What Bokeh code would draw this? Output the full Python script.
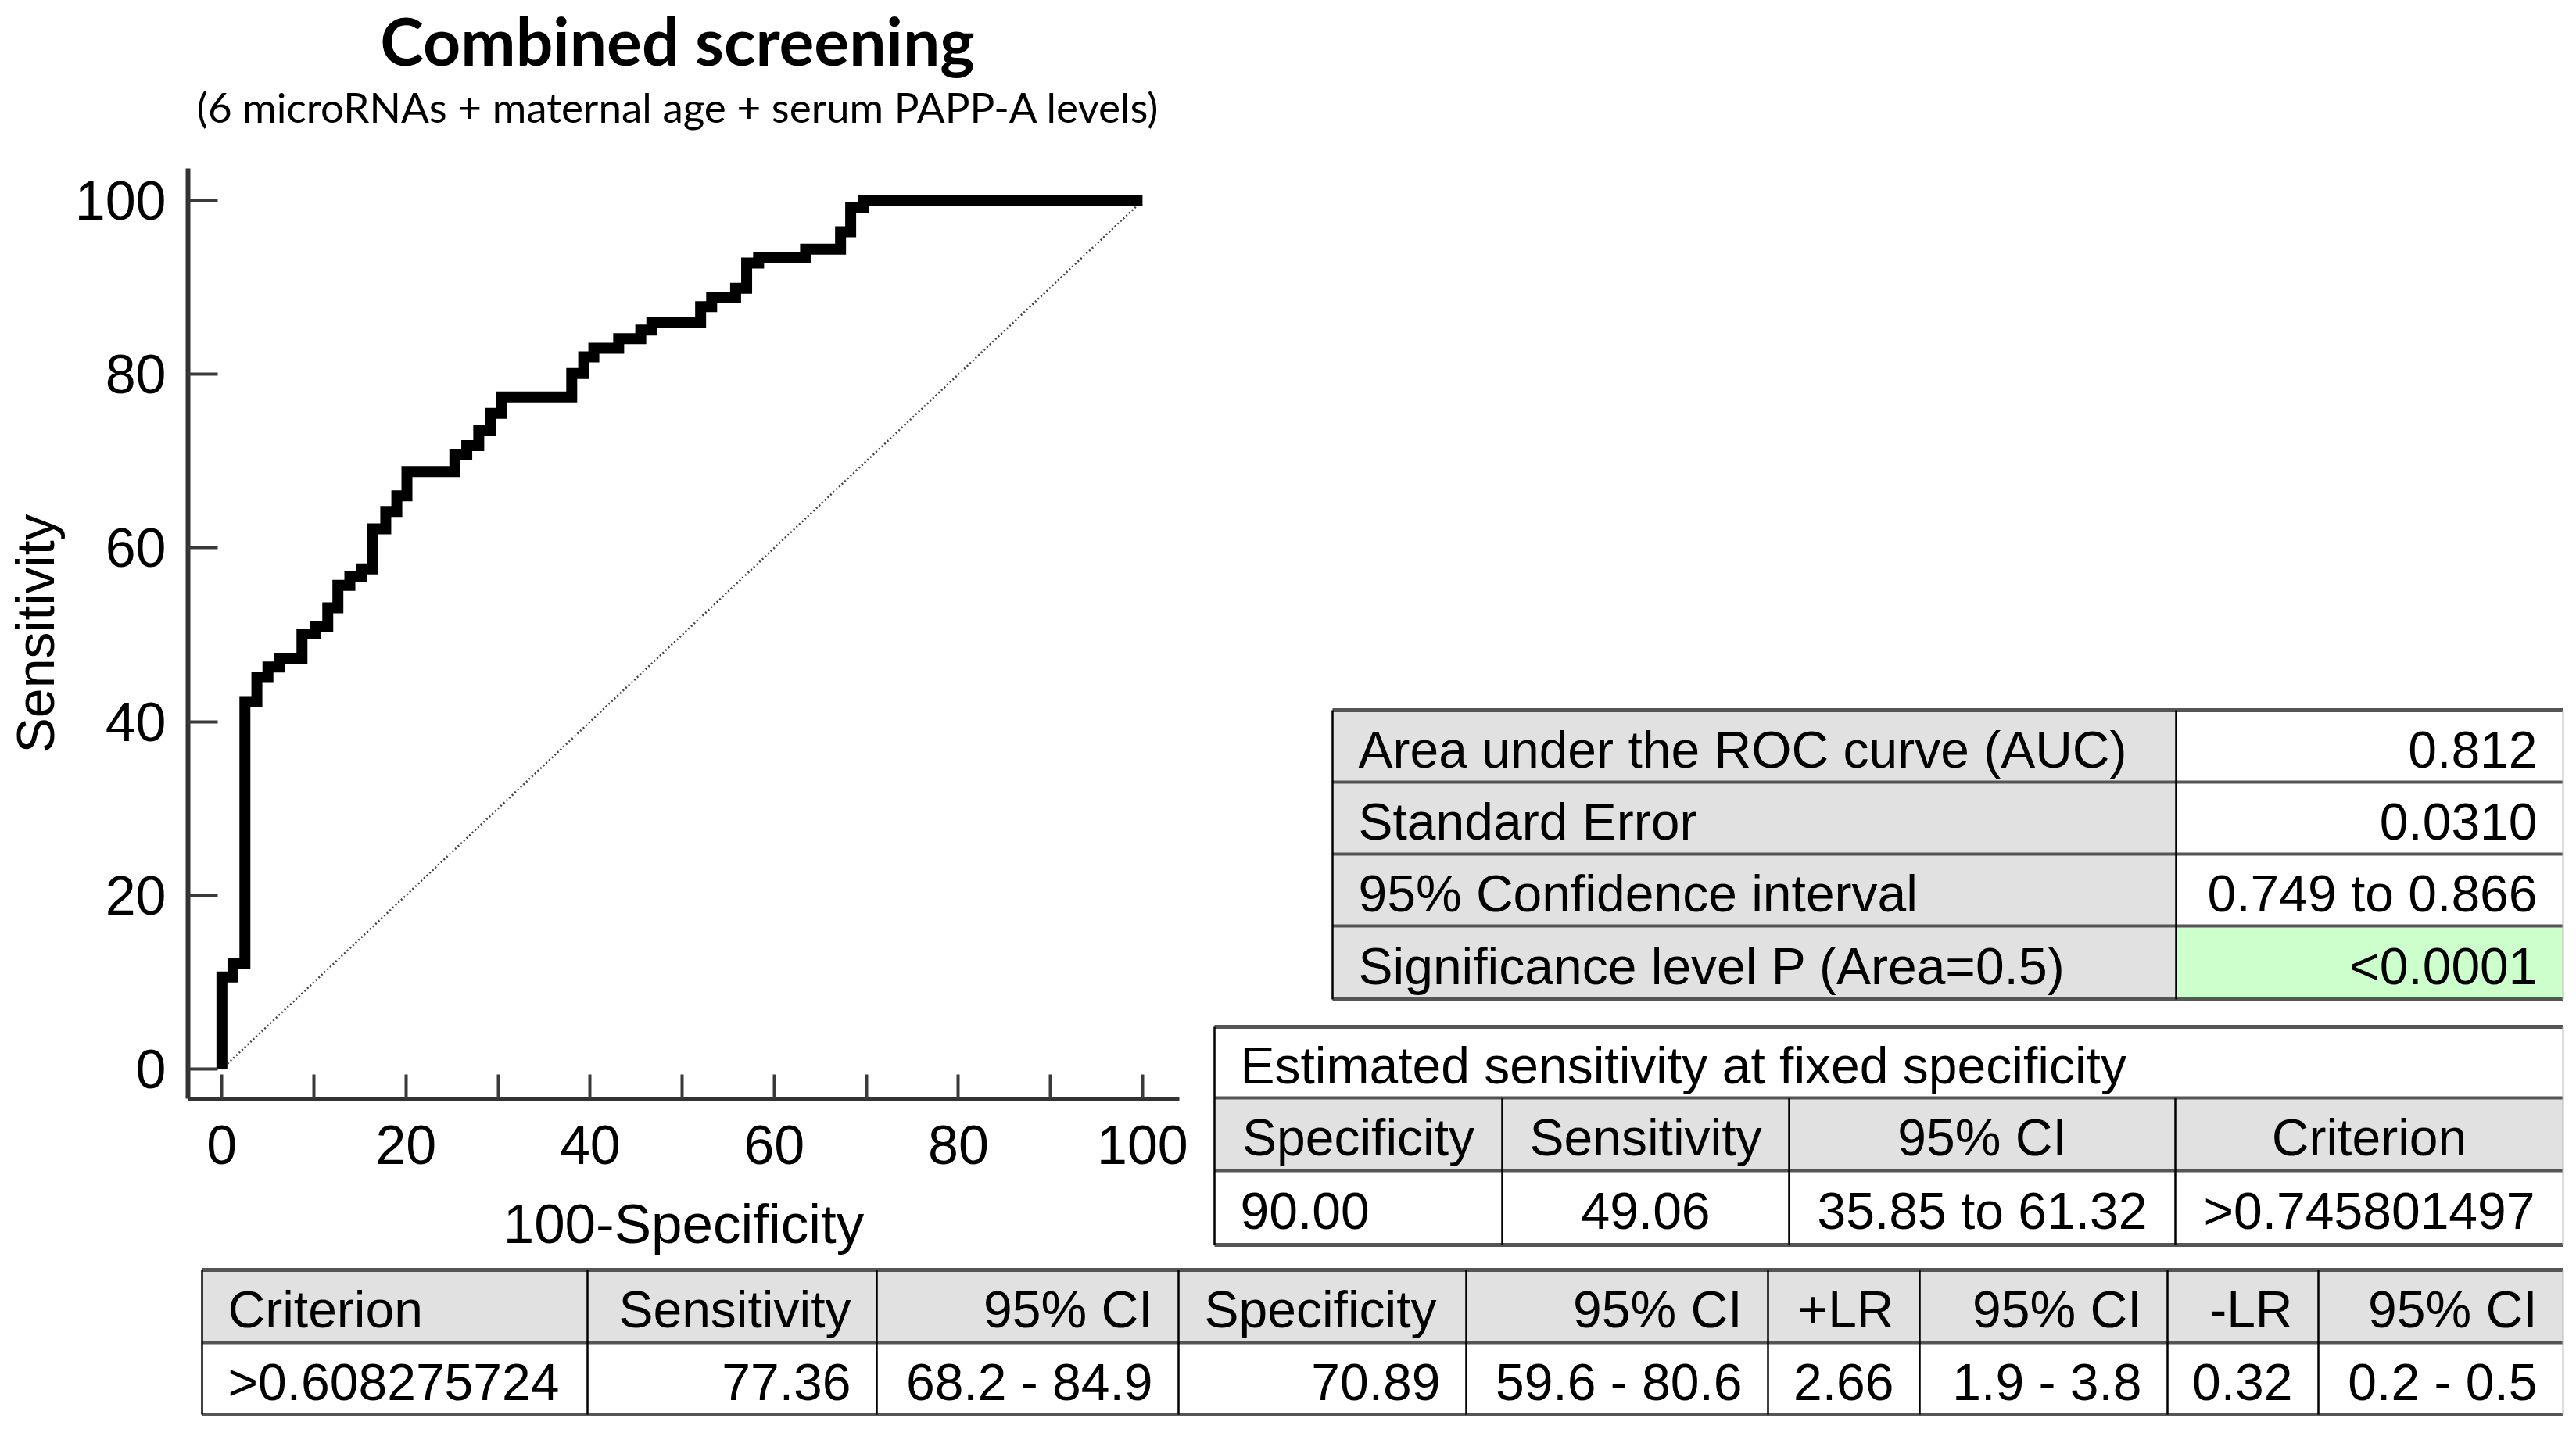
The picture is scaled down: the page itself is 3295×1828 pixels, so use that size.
from bokeh.plotting import figure
from bokeh.models import Range1d, FixedTicker, ColumnDataSource
from bokeh.layouts import column, row
from bokeh.embed import file_html
from bokeh.resources import INLINE
from bokeh.core.properties import value

# ---------------- data ----------------
title_text = "Combined screening"
subtitle_text = "(6 microRNAs + maternal age + serum PAPP-A levels)"

# ROC step curve: 100-Specificity at which sensitivity jumps, and the new sensitivity
fpr = [0, 0, 1.2, 2.5, 3.8, 5.0, 6.3, 8.7, 10.2, 11.5, 12.6, 13.9, 15.2, 16.4, 17.8, 19.0,
       20.1, 25.3, 26.6, 27.9, 29.2, 30.4, 38.0, 39.3, 40.4, 43.1, 45.5, 46.7, 52.0, 53.2,
       55.8, 57.0, 58.3, 63.4, 67.2, 68.3, 69.7, 100]
tpr = [0, 10.6, 12.2, 42.3, 45.1, 46.3, 47.3, 50.1, 51.0, 53.1, 55.7, 56.7, 57.6, 62.2, 64.2, 66.0,
       68.8, 70.7, 71.8, 73.5, 75.5, 77.4, 80.1, 82.0, 83.0, 84.1, 85.1, 86.0, 87.8, 88.8,
       89.9, 92.8, 93.4, 94.4, 96.4, 99.2, 100, 100]
chance_x = [0, 100]
chance_y = [0, 100]

x_ticks = [0, 20, 40, 60, 80, 100]
x_minor_ticks = [10, 30, 50, 70, 90]
y_ticks = [0, 20, 40, 60, 80, 100]
x_label = "100-Specificity"
y_label = "Sensitivity"

auc_labels = ["Area under the ROC curve (AUC)", "Standard Error",
              "95% Confidence interval", "Significance level P (Area=0.5)"]
auc_values = ["0.812", "0.0310", "0.749 to 0.866", "<0.0001"]

fixed_title = "Estimated sensitivity at fixed specificity"
fixed_header = ["Specificity", "Sensitivity", "95% CI", "Criterion"]
fixed_row = ["90.00", "49.06", "35.85 to 61.32", ">0.745801497"]

crit_header = ["Criterion", "Sensitivity", "95% CI", "Specificity", "95% CI",
               "+LR", "95% CI", "-LR", "95% CI"]
crit_row = [">0.608275724", "77.36", "68.2 - 84.9", "70.89", "59.6 - 80.6",
            "2.66", "1.9 - 3.8", "0.32", "0.2 - 0.5"]

# ---------------- styles / layout ----------------
FONT = "Liberation Sans"
TITLE_FONT = "Lato"
GRAY = "#e1e1e1"
GREEN = "#ccffcc"
HLINE = "#555555"
TFS = 66  # table font px
PAD = 33
SHIFT = {FONT: 0.29, TITLE_FONT: 0.28}  # baseline correction (em)


def canvas(w, h, xr, yr, **kw):
    f = figure(width=w, height=h, x_range=Range1d(*xr), y_range=Range1d(*yr),
               output_backend="svg", toolbar_location=None,
               x_axis_location=None, y_axis_location=None, title=None, **kw)
    f.grid.visible = False
    f.outline_line_color = None
    f.background_fill_color = "white"
    f.border_fill_color = "white"
    return f


def put_text(f, xs, ys, texts, align, size, font=FONT, style="normal", color="black"):
    k = SHIFT[font] * size
    src = ColumnDataSource(dict(x=list(xs), y=[y - k for y in ys], t=texts))
    f.text(x="x", y="y", text="t", source=src, text_align=align, text_baseline="alphabetic",
           text_font=value(font), text_font_size=f"{size}px", text_font_style=style,
           text_color=color)


def draw_table(f, cells, hlines, vlines):
    # cells: (x0, x1, y0, y1, fill, text, align) in page pixels
    f.quad(left=[c[0] for c in cells], right=[c[1] for c in cells],
           top=[c[2] for c in cells], bottom=[c[3] for c in cells],
           fill_color=[c[4] for c in cells], line_color=None)
    for (x0, x1, y, w, col) in hlines:
        f.segment(x0=[x0], y0=[y], x1=[x1], y1=[y], line_color=col, line_width=w)
    for (x, y0, y1, w, col) in vlines:
        f.segment(x0=[x], y0=[y0], x1=[x], y1=[y1], line_color=col, line_width=w)
    groups = {}
    for (x0, x1, y0, y1, fill, text, align) in cells:
        if not text:
            continue
        base = (y0 + y1) / 2 + 0.716 * TFS / 2
        if align == "left":
            x = x0 + PAD
        elif align == "right":
            x = x1 - PAD
        else:
            x = (x0 + x1) / 2
        groups.setdefault(align, []).append((x, base, text))
    for align, items in groups.items():
        put_text(f, [i[0] for i in items], [i[1] for i in items],
                 [i[2] for i in items], align, TFS)


LEFT_W = 1548
# ---------------- title (page-pixel coordinates, frame aligned with plot frame) ----------------
tfig = canvas(LEFT_W, 206, (240, 1508), (206, 0),
              min_border_left=240, min_border_right=40, min_border_top=0, min_border_bottom=0)
put_text(tfig, [866], [75], [title_text], "center", 84, font=TITLE_FONT, style="bold")
put_text(tfig, [867], [151], [subtitle_text], "center", 53, font=TITLE_FONT)

# ---------------- ROC plot ----------------
p = figure(width=LEFT_W, height=1414, x_range=Range1d(-3.68, 104.0), y_range=Range1d(-3.42, 103.7),
           output_backend="svg", toolbar_location=None, title=None,
           min_border_left=240, min_border_right=40, min_border_top=9, min_border_bottom=215)
p.grid.visible = False
p.outline_line_color = None

p.line(chance_x, chance_y, line_color="#444444", line_width=2.5, line_dash="2 3")
p.step(fpr, tpr, mode="after", line_color="black", line_width=14, line_join="miter", line_cap="butt")

p.xaxis.ticker = FixedTicker(ticks=x_ticks, minor_ticks=x_minor_ticks)
p.yaxis.ticker = FixedTicker(ticks=y_ticks)
p.xaxis.axis_label = x_label
p.yaxis.axis_label = y_label
for ax in (p.xaxis, p.yaxis):
    ax.axis_line_color = "#333333"
    ax.major_tick_line_color = "#3a3a3a"
    ax.minor_tick_line_color = "#3a3a3a"
    ax.major_tick_line_width = 4
    ax.minor_tick_line_width = 4
    ax.major_tick_out = 0
    ax.minor_tick_out = 0
    ax.major_label_text_font = FONT
    ax.major_label_text_font_size = "70px"
    ax.major_label_text_color = "black"
    ax.axis_label_text_font = FONT
    ax.axis_label_text_font_style = "normal"
    ax.axis_label_text_color = "black"
p.xaxis.axis_label_text_font_size = "71px"
p.yaxis.axis_label_text_font_size = "68px"
p.xaxis.axis_line_width = 5
p.yaxis.axis_line_width = 6
p.xaxis.major_tick_in = 31
p.xaxis.minor_tick_in = 31
p.yaxis.major_tick_in = 38
p.yaxis.minor_tick_in = 0
p.xaxis.major_label_standoff = 34
p.yaxis.major_label_standoff = 28
p.xaxis.axis_label_standoff = 34
p.yaxis.axis_label_standoff = 10

# ---------------- right side tables (page-pixel coordinates) ----------------
rfig = canvas(3295 - LEFT_W, 1620, (LEFT_W, 3295), (1620, 0), min_border=0)

# AUC table
ax_edges = [1704, 2783, 3278]
ay_edges = [908, 1000, 1092, 1184, 1278]
cells = []
for i in range(4):
    cells.append((ax_edges[0], ax_edges[1], ay_edges[i], ay_edges[i + 1], GRAY, auc_labels[i], "left"))
    cells.append((ax_edges[1], ax_edges[2], ay_edges[i], ay_edges[i + 1],
                  GREEN if i == 3 else "white", auc_values[i], "right"))
hl = [(ax_edges[0], ax_edges[2], y, 5 if j in (0, 4) else 4, HLINE) for j, y in enumerate(ay_edges)]
vl = [(ax_edges[0], ay_edges[0], ay_edges[-1], 2.5, "black"),
      (ax_edges[1], ay_edges[0], ay_edges[-1], 2.5, "black"),
      (ax_edges[2], ay_edges[0], ay_edges[-1], 2, "#bbbbbb")]
draw_table(rfig, cells, hl, vl)

# fixed specificity table
fx_edges = [1553, 1921, 2288, 2782, 3278]
fy_edges = [1313, 1404, 1497, 1592]
cells = [(fx_edges[0], fx_edges[-1], fy_edges[0], fy_edges[1], "white", fixed_title, "left")]
for c in range(4):
    cells.append((fx_edges[c], fx_edges[c + 1], fy_edges[1], fy_edges[2], GRAY, fixed_header[c], "center"))
    cells.append((fx_edges[c], fx_edges[c + 1], fy_edges[2], fy_edges[3], "white", fixed_row[c],
                  "left" if c == 0 else "center"))
hl = [(fx_edges[0], fx_edges[-1], y, 5 if j in (0, 3) else 4, HLINE) for j, y in enumerate(fy_edges)]
vl = [(fx_edges[0], fy_edges[0], fy_edges[-1], 2.5, "black"),
      (fx_edges[-1], fy_edges[0], fy_edges[-1], 2, "#bbbbbb")]
vl += [(x, fy_edges[1], fy_edges[-1], 2.5, "black") for x in fx_edges[1:-1]]
draw_table(rfig, cells, hl, vl)

# ---------------- bottom criterion table ----------------
bfig = canvas(3295, 208, (0, 3295), (1828, 1620), min_border=0)
bx_edges = [258, 751, 1121, 1507, 1875, 2261, 2455, 2772, 2965, 3278]
by_edges = [1624, 1717, 1809]
head_align = ["left", "right", "right", "left", "right", "right", "right", "right", "right"]
cells = []
for c in range(9):
    cells.append((bx_edges[c], bx_edges[c + 1], by_edges[0], by_edges[1], GRAY, crit_header[c], head_align[c]))
    cells.append((bx_edges[c], bx_edges[c + 1], by_edges[1], by_edges[2], "white", crit_row[c],
                  "left" if c == 0 else "right"))
hl = [(bx_edges[0], bx_edges[-1], y, 5 if j in (0, 2) else 4, HLINE) for j, y in enumerate(by_edges)]
vl = [(bx_edges[0], by_edges[0], by_edges[-1], 2.5, "black"),
      (bx_edges[-1], by_edges[0], by_edges[-1], 2, "#bbbbbb")]
vl += [(x, by_edges[0], by_edges[-1], 2.5, "black") for x in bx_edges[1:-1]]
draw_table(bfig, cells, hl, vl)

layout = column(row(column(tfig, p), rfig), bfig)
open("out.html", "w").write(file_html(layout, INLINE))
